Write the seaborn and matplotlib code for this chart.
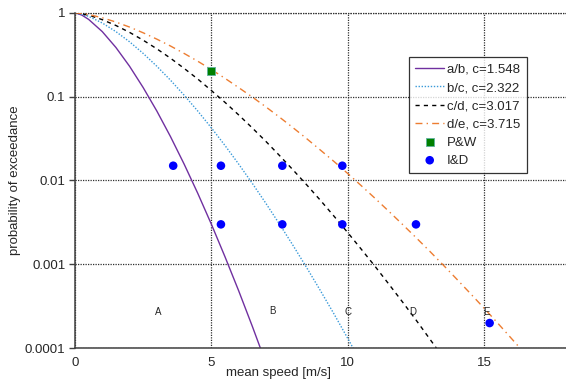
import matplotlib
matplotlib.use("Agg")
import matplotlib.pyplot as plt
import pandas as pd
import seaborn as sns
from matplotlib.ticker import FixedLocator, FixedFormatter, NullLocator

sns.set_style("white")
plt.rcParams["font.family"] = ["Liberation Sans", "DejaVu Sans"]

# curve samples (x in m/s, probability of exceedance)
x_ab = [0, 0.25, 0.5, 1, 1.5, 2, 2.5, 3, 3.5, 4, 4.5, 5, 5.5, 6, 6.5, 7]
p_ab = [1, 0.937, 0.832, 0.595, 0.385, 0.230, 0.128, 0.0673, 0.0334, 0.0157,
        0.00704, 0.00301, 0.00123, 0.000485, 0.000183, 0.0000666]

x_bc = [0, 0.5, 1, 1.5, 2, 2.5, 3, 3.5, 4, 4.5, 5, 5.5, 6, 6.5, 7, 7.5, 8,
        8.5, 9, 9.5, 10, 10.5]
p_bc = [1, 0.905, 0.754, 0.595, 0.450, 0.327, 0.230, 0.157, 0.104, 0.0673,
        0.0424, 0.0261, 0.0157, 0.00925, 0.00533, 0.00301, 0.00167, 0.000907,
        0.000485, 0.000255, 0.000131, 0.0000666]

x_cd = [0, 0.5, 1, 1.5, 2, 2.5, 3, 3.5, 4, 4.5, 5, 5.5, 6, 6.5, 7, 7.5, 8,
        8.5, 9, 9.5, 10, 10.5, 11, 11.5, 12, 12.5, 13, 13.5]
p_cd = [1, 0.935, 0.826, 0.704, 0.583, 0.470, 0.371, 0.287, 0.217, 0.162,
        0.118, 0.0853, 0.0605, 0.0423, 0.0292, 0.0198, 0.0133, 0.00883,
        0.00579, 0.00374, 0.00239, 0.00151, 0.000948, 0.000585, 0.000359,
        0.000218, 0.000130, 0.0000774]

x_de = [0, 0.5, 1, 1.5, 2, 2.5, 3, 3.5, 4, 4.5, 5, 5.5, 6, 6.5, 7, 7.5, 8,
        8.5, 9, 9.5, 10, 10.5, 11, 11.5, 12, 12.5, 13, 13.5, 14, 14.5, 15,
        15.5, 16, 16.5]
p_de = [1, 0.952, 0.870, 0.774, 0.674, 0.576, 0.484, 0.401, 0.327, 0.264,
        0.210, 0.165, 0.128, 0.0988, 0.0753, 0.0568, 0.0424, 0.0314, 0.0230,
        0.0168, 0.0121, 0.00864, 0.00613, 0.00431, 0.00301, 0.00209, 0.00144,
        0.000982, 0.000665, 0.000448, 0.000300, 0.000199, 0.000131, 0.0000860]

pw_x = [5.0]
pw_p = [0.2]

id_x = [3.6, 5.35, 7.6, 9.8, 5.35, 7.6, 9.8, 12.5, 15.2]
id_p = [0.015, 0.015, 0.015, 0.015, 0.003, 0.003, 0.003, 0.003, 0.0002]

class_labels = ["A", "B", "C", "D", "E"]
class_x = [3.05, 7.25, 10.0, 12.4, 15.1]
class_p = [0.00027, 0.00028, 0.00027, 0.00027, 0.00027]

y_ticks = [1, 0.1, 0.01, 0.001, 0.0001]
y_ticklabels = ["1", "0.1", "0.01", "0.001", "0.0001"]
x_ticks = [0, 5, 10, 15]

fig = plt.figure(figsize=(5.66, 3.79), dpi=100)
ax = fig.add_axes([0.1325, 0.081, 0.8675, 0.8855])

curves = [
    (x_ab, p_ab, "a/b, c=1.548", "#7030A0", "-"),
    (x_bc, p_bc, "b/c, c=2.322", "#3A9AD9", (0, (1, 1.2))),
    (x_cd, p_cd, "c/d, c=3.017", "black", (0, (3, 3))),
    (x_de, p_de, "d/e, c=3.715", "#ED7D31", (0, (5, 3, 1, 3))),
]
for xs, ps, lab, col, ls in curves:
    df = pd.DataFrame({"x": xs, "p": ps})
    sns.lineplot(data=df, x="x", y="p", ax=ax, color=col, linestyle=ls,
                 linewidth=1.0, label=lab)

sns.scatterplot(x=pw_x, y=pw_p, ax=ax, marker="s", s=30, color="#008000",
                edgecolor="#5fb3a0", linewidth=0.6, label="P&W", zorder=5)
sns.scatterplot(x=id_x, y=id_p, ax=ax, marker="o", s=38, color="#0000FF",
                edgecolor="none", label="I&D", zorder=5)

for t, xv, pv in zip(class_labels, class_x, class_p):
    ax.text(xv, pv, t, fontsize=7, ha="center", va="center")

ax.set_yscale("log")
ax.set_xlim(0, 18)
ax.set_ylim(0.0001, 1)
ax.yaxis.set_major_locator(FixedLocator(y_ticks))
ax.yaxis.set_major_formatter(FixedFormatter(y_ticklabels))
ax.yaxis.set_minor_locator(NullLocator())
ax.set_xticks(x_ticks)

ax.grid(True, which="major", color="#303030", linestyle=(0, (1, 1)),
        linewidth=0.9)
ax.set_axisbelow(True)
for s in ["top", "right"]:
    ax.spines[s].set_visible(False)
for s in ["left", "bottom"]:
    ax.spines[s].set_color("#404040")
    ax.spines[s].set_linewidth(1.1)
ax.tick_params(axis="y", labelsize=9.5, length=4, width=1,
               color="#404040", direction="out", left=True, pad=3)
ax.tick_params(axis="x", labelsize=9.5, length=0, pad=6)
ax.axhline(1, color="#303030", linestyle=(0, (1, 1)), linewidth=0.9,
           clip_on=False, zorder=0)

ax.set_xlabel("mean speed [m/s]", fontsize=9.5)
ax.xaxis.set_label_coords(0.415, -0.055)
ax.set_ylabel("probability of exceedance", fontsize=9.5)
ax.yaxis.set_label_coords(-0.11, 0.5)

leg = ax.legend(loc="upper right", bbox_to_anchor=(0.92, 0.868),
                fontsize=9.5, frameon=True, fancybox=False, handlelength=2.2,
                handletextpad=0.2, borderpad=0.5, labelspacing=0.45,
                borderaxespad=0)
leg.get_frame().set_edgecolor("black")
leg.get_frame().set_linewidth(0.9)

fig.savefig("out.png", dpi=100)
